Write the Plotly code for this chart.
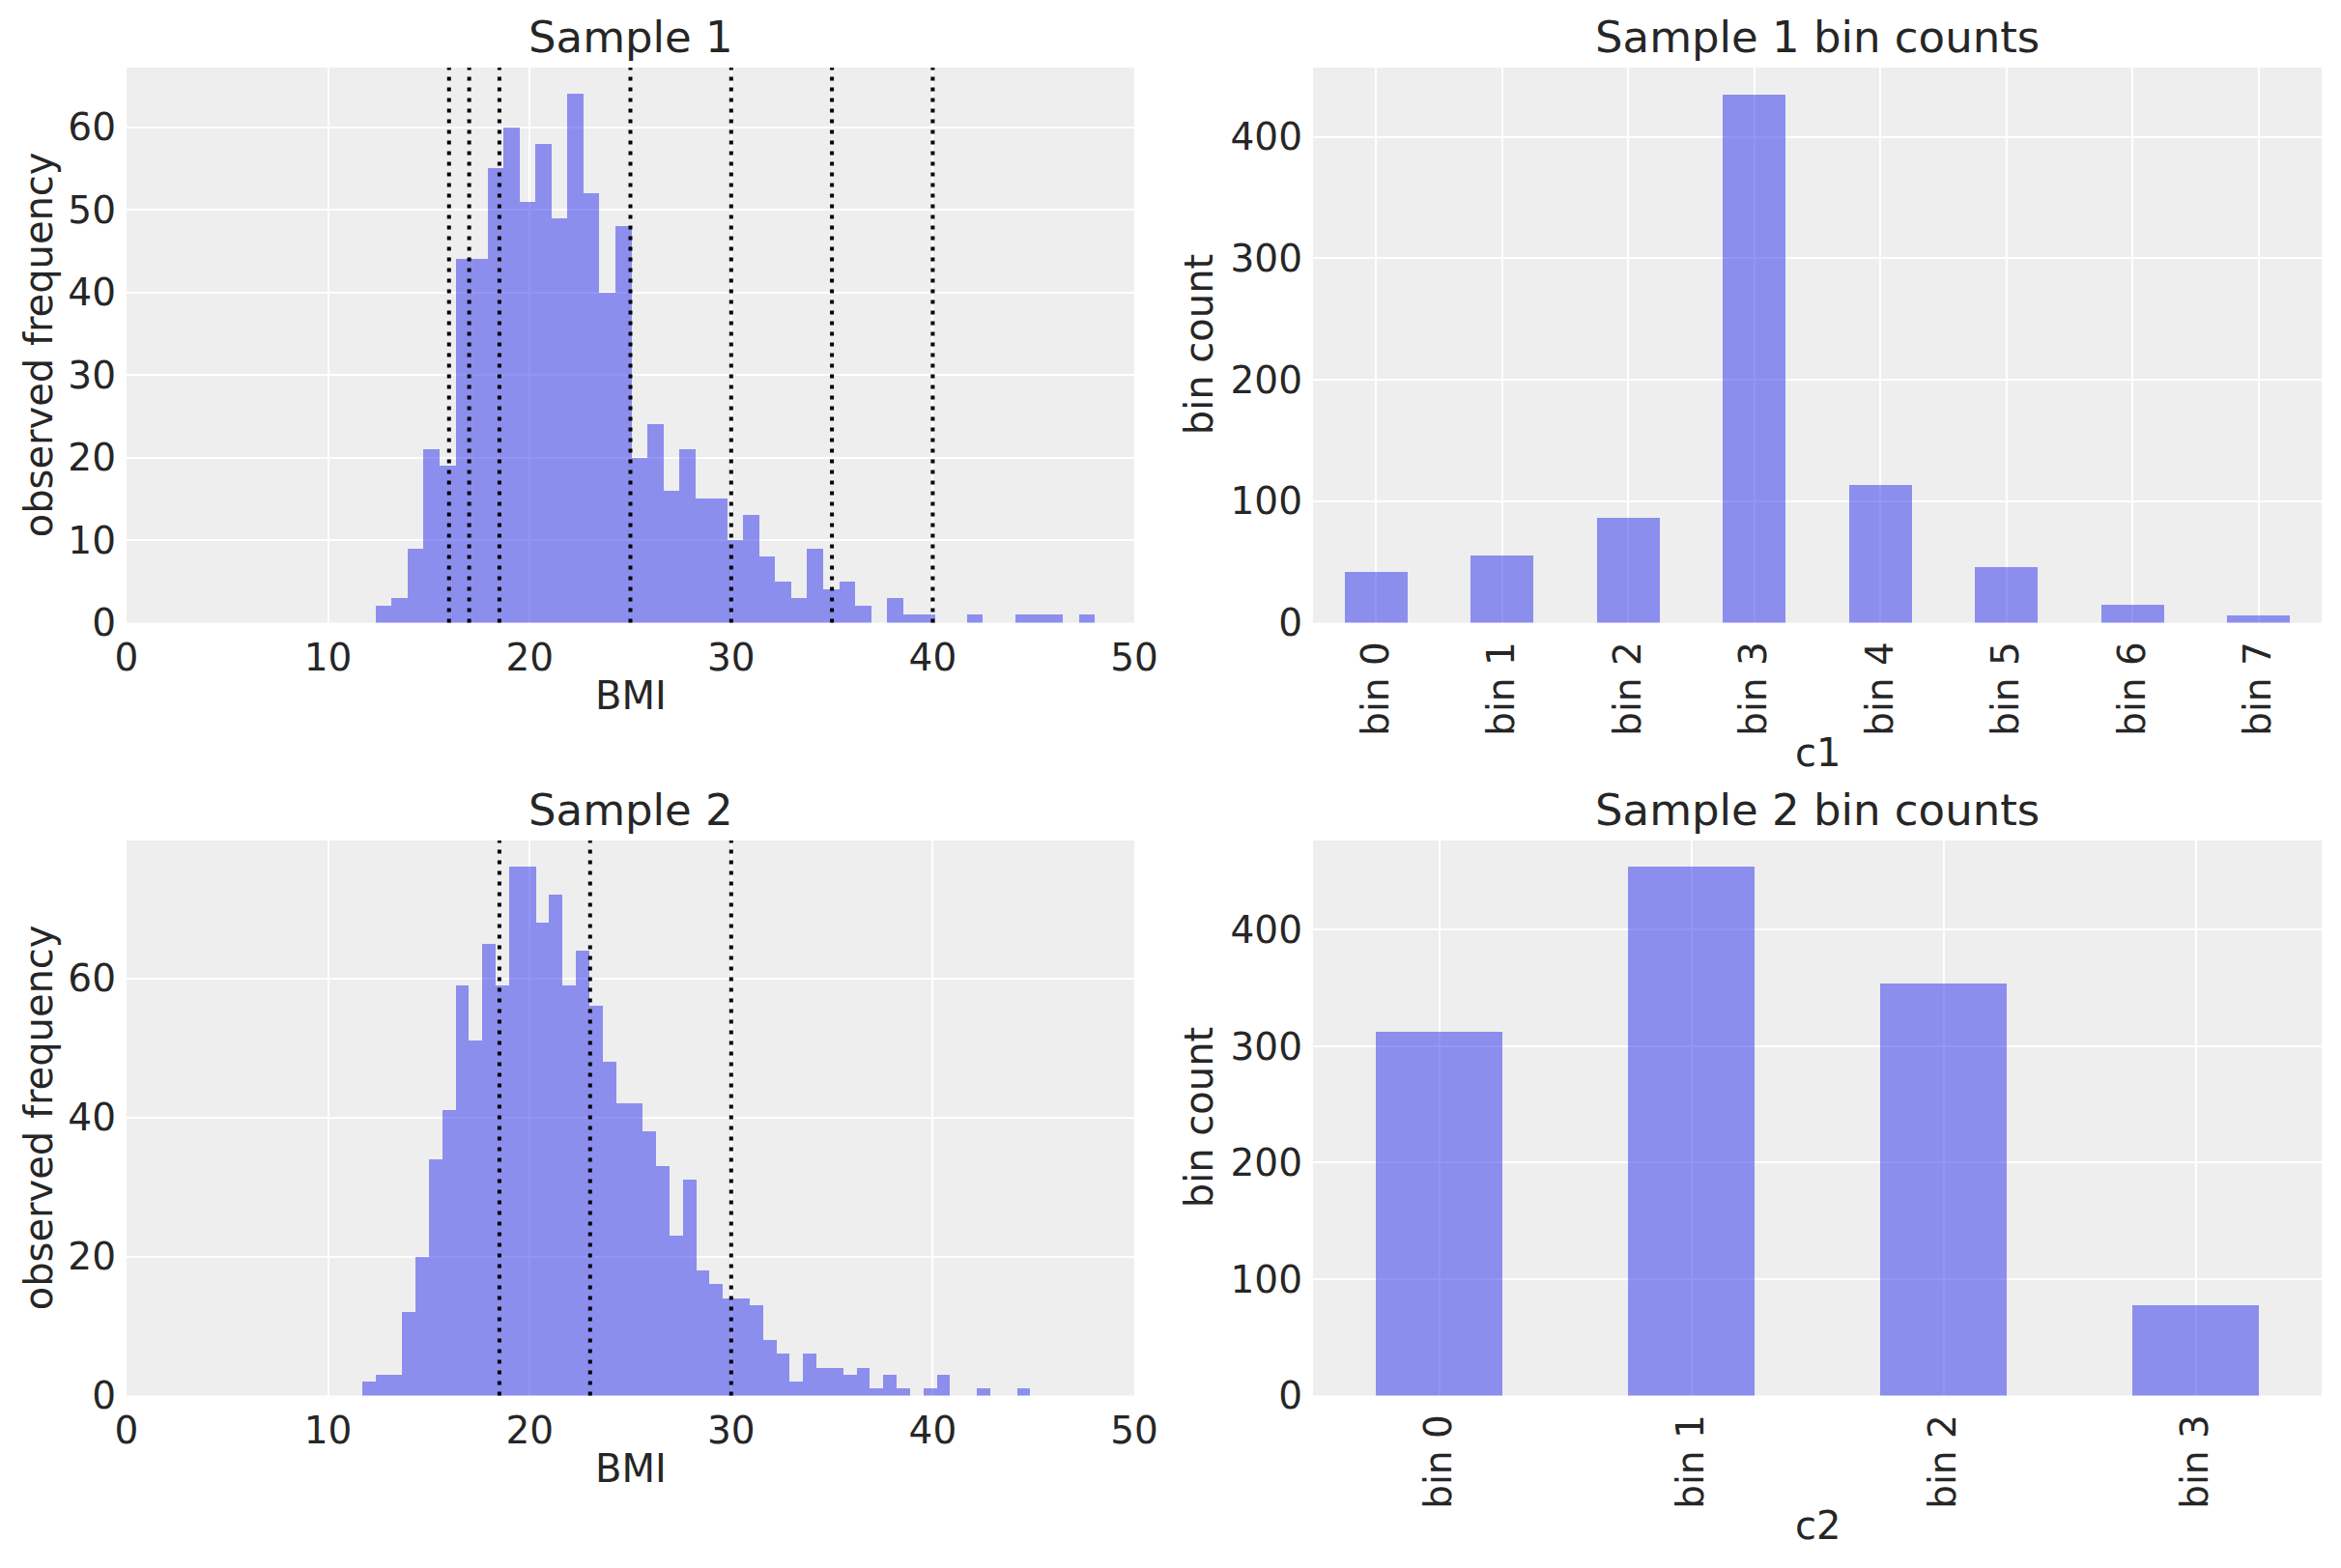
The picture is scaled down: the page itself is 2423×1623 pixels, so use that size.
import plotly.graph_objects as go

# ---------------- data ----------------
# Sample 1 histogram (45 equal-width bins)
s1_bin_start = 12.36
s1_bin_width = 0.793
s1_counts = [2, 3, 9, 21, 19, 44, 44, 55, 60, 51, 58, 49, 64, 52, 40, 48, 20, 24, 16, 21,
             15, 15, 10, 13, 8, 5, 3, 9, 4, 5, 2, 0, 3, 1, 1, 0, 0, 1, 0, 0,
             1, 1, 1, 0, 1]
s1_cutpoints = [16, 17, 18.5, 25, 30, 35, 40]

# Sample 2 histogram (50 equal-width bins)
s2_bin_start = 11.69
s2_bin_width = 0.663
s2_counts = [2, 3, 3, 12, 20, 34, 41, 59, 51, 65, 59, 76, 76, 68, 72, 59, 64, 56, 48, 42,
             42, 38, 33, 23, 31, 18, 16, 14, 14, 13, 8, 6, 2, 6, 4, 4, 3, 4, 1, 3,
             1, 0, 1, 3, 0, 0, 1, 0, 0, 1]
s2_cutpoints = [18.5, 23, 30]

# Bin counts
c1_labels = ["bin 0", "bin 1", "bin 2", "bin 3", "bin 4", "bin 5", "bin 6", "bin 7"]
c1_counts = [42, 55, 86, 435, 113, 46, 15, 6]
c2_labels = ["bin 0", "bin 1", "bin 2", "bin 3"]
c2_counts = [312, 454, 354, 78]

# ---------------- style ----------------
W, H = 2423, 1623
FONT = "DejaVu Sans"
TXT = "#262626"
BAR = "rgba(42,46,236,0.5)"
BG = "#eeeeee"
TICK = 39
LABEL = 40
TITLE = 45

def px_x(p):
    return p / W

def px_y(p):
    return 1 - p / H

left_dom = [px_x(131), px_x(1174)]
right_dom = [px_x(1359), px_x(2403)]
top_dom = [px_y(644.5), px_y(70)]
bot_dom = [px_y(1444.5), px_y(870)]

fig = go.Figure()

s1_edges = [s1_bin_start + s1_bin_width * i for i in range(len(s1_counts))]
s2_edges = [s2_bin_start + s2_bin_width * i for i in range(len(s2_counts))]

fig.add_trace(go.Bar(x=s1_edges, y=s1_counts, width=s1_bin_width, offset=0,
                     marker=dict(color=BAR, line=dict(width=0)),
                     xaxis="x", yaxis="y", showlegend=False))
fig.add_trace(go.Bar(x=c1_labels, y=c1_counts, width=0.5,
                     marker=dict(color=BAR, line=dict(width=0)),
                     xaxis="x2", yaxis="y2", showlegend=False))
fig.add_trace(go.Bar(x=s2_edges, y=s2_counts, width=s2_bin_width, offset=0,
                     marker=dict(color=BAR, line=dict(width=0)),
                     xaxis="x3", yaxis="y3", showlegend=False))
fig.add_trace(go.Bar(x=c2_labels, y=c2_counts, width=0.5,
                     marker=dict(color=BAR, line=dict(width=0)),
                     xaxis="x4", yaxis="y4", showlegend=False))

dotted = dict(color="black", width=4, dash="4px,7px")
for v in s1_cutpoints:
    fig.add_shape(type="line", xref="x", yref="y domain", x0=v, x1=v, y0=0, y1=1, line=dotted)
for v in s2_cutpoints:
    fig.add_shape(type="line", xref="x3", yref="y3 domain", x0=v, x1=v, y0=0, y1=1, line=dotted)

ax_common = dict(showgrid=True, gridcolor="white", gridwidth=2, zeroline=False,
                 showline=False, ticks="", automargin=False,
                 tickfont=dict(family=FONT, size=TICK, color=TXT))

fig.update_layout(
    width=W, height=H, autosize=False,
    margin=dict(l=0, r=0, t=0, b=0, pad=0),
    paper_bgcolor="white", plot_bgcolor=BG,
    font=dict(family=FONT, color=TXT),
    bargap=0,
    xaxis=dict(domain=left_dom, anchor="y", range=[0, 50], tickvals=[0, 10, 20, 30, 40, 50],
               ticklabelstandoff=9, **ax_common),
    yaxis=dict(domain=top_dom, anchor="x", range=[0, 67.2], tickvals=[0, 10, 20, 30, 40, 50, 60],
               ticklabelstandoff=10, **ax_common),
    xaxis2=dict(domain=right_dom, anchor="y2", type="category", range=[-0.5, 7.5],
                tickangle=-90, ticklabelstandoff=11, **ax_common),
    yaxis2=dict(domain=top_dom, anchor="x2", range=[0, 457], tickvals=[0, 100, 200, 300, 400],
                ticklabelstandoff=10, **ax_common),
    xaxis3=dict(domain=left_dom, anchor="y3", range=[0, 50], tickvals=[0, 10, 20, 30, 40, 50],
                ticklabelstandoff=9, **ax_common),
    yaxis3=dict(domain=bot_dom, anchor="x3", range=[0, 79.8], tickvals=[0, 20, 40, 60],
                ticklabelstandoff=10, **ax_common),
    xaxis4=dict(domain=right_dom, anchor="y4", type="category", range=[-0.5, 3.5],
                tickangle=-90, ticklabelstandoff=11, **ax_common),
    yaxis4=dict(domain=bot_dom, anchor="x4", range=[0, 476.7], tickvals=[0, 100, 200, 300, 400],
                ticklabelstandoff=10, **ax_common),
)

def ann(text, xp, yp, size, angle=0):
    fig.add_annotation(text=text, xref="paper", yref="paper", x=px_x(xp), y=px_y(yp),
                       xanchor="center", yanchor="middle", showarrow=False, textangle=angle,
                       font=dict(family=FONT, size=size, color=TXT))

cx_left = (131 + 1174) / 2
cx_right = (1359 + 2403) / 2
# titles
ann("Sample 1", cx_left, 38, TITLE)
ann("Sample 1 bin counts", cx_right, 38, TITLE)
ann("Sample 2", cx_left, 838, TITLE)
ann("Sample 2 bin counts", cx_right, 838, TITLE)
# x axis titles
ann("BMI", cx_left, 720, LABEL)
ann("BMI", cx_left, 1520, LABEL)
ann("c1", cx_right, 779, LABEL)
ann("c2", cx_right, 1579, LABEL)
# y axis titles
ann("observed frequency", 40, (70 + 644.5) / 2, LABEL, -90)
ann("observed frequency", 40, (870 + 1444.5) / 2, LABEL, -90)
ann("bin count", 1241, (70 + 644.5) / 2, LABEL, -90)
ann("bin count", 1241, (870 + 1444.5) / 2, LABEL, -90)

fix_page = ("document.documentElement.style.margin='0';document.body.style.margin='0';"
            "document.body.style.padding='0';document.documentElement.style.overflow='hidden';"
            "document.body.style.overflow='hidden';")

fig.write_html("out.html", config={"responsive": False, "displayModeBar": False},
               post_script=fix_page)
